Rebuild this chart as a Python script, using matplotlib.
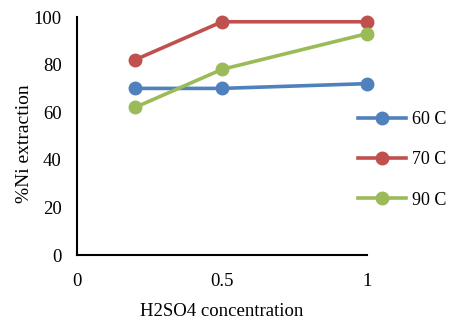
import matplotlib
matplotlib.use("Agg")
import matplotlib.pyplot as plt

plt.rcParams["font.family"] = ["Liberation Serif", "DejaVu Serif"]

conc = [0.2, 0.5, 1.0]
ni_60 = [70, 70, 72]
ni_70 = [82, 98, 98]
ni_90 = [62, 78, 93]
labels = ["60 C", "70 C", "90 C"]
colors = ["#4F81BD", "#C0504D", "#9BBB59"]

fig = plt.figure(figsize=(4.54, 3.22), dpi=100)
ax = fig.add_axes([77 / 454, 1 - 255 / 322, 290 / 454, 238 / 322])

for ys, lab, col in zip([ni_60, ni_70, ni_90], labels, colors):
    ax.plot(conc, ys, color=col, linewidth=2.6, marker="o", markersize=9, label=lab, clip_on=False)

ax.set_xlim(0, 1)
ax.set_ylim(0, 100)
ax.set_xticks([0, 0.5, 1])
ax.set_xticklabels(["0", "0.5", "1"])
ax.set_yticks([0, 20, 40, 60, 80, 100])
ax.tick_params(length=0, labelsize=13.5)
ax.tick_params(axis="x", pad=13)
ax.tick_params(axis="y", pad=11)
for s in ["top", "right"]:
    ax.spines[s].set_visible(False)
for s in ["left", "bottom"]:
    ax.spines[s].set_linewidth(1.5)
    ax.spines[s].set_color("black")

ax.set_xlabel("H2SO4 concentration", fontsize=13.5, labelpad=9)
ax.set_ylabel("%Ni extraction", fontsize=14)
ax.yaxis.set_label_coords(-44 / 290, 0.466)

ax.legend(loc="center left", bbox_to_anchor=(0.943, 0.4), frameon=False, fontsize=13,
          handlelength=2.7, labelspacing=1.3, handletextpad=0.3, borderaxespad=0)

fig.savefig("out.png", dpi=100)
